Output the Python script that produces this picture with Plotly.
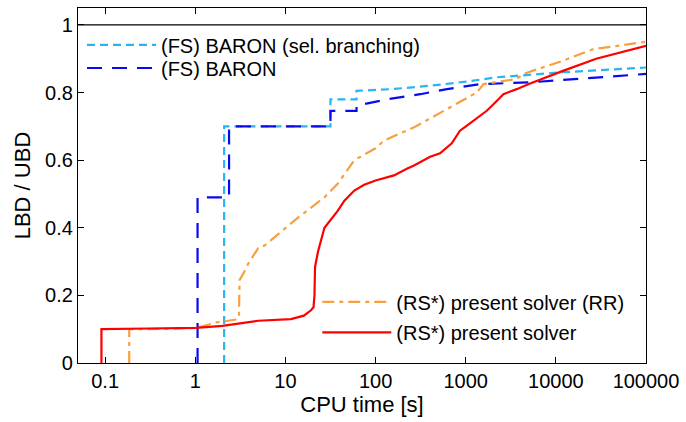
import plotly.graph_objects as go
import math

# ---- data (time [s], LBD/UBD) ----
fs_sel_t = [2.09, 2.09, 31.6, 31.6, 61.5, 61.5, 150, 403, 1000, 2208, 12000, 100000]
fs_sel_v = [0.0, 0.70, 0.70, 0.78, 0.78, 0.805, 0.81, 0.82, 0.832, 0.845, 0.86, 0.874]

fs_t = [1.06, 1.06, 2.37, 2.37, 31.6, 31.6, 61.5, 61.5, 135, 313, 621, 1434, 5100, 28000, 100000]
fs_v = [0.0, 0.49, 0.49, 0.70, 0.70, 0.746, 0.746, 0.761, 0.78, 0.795, 0.81, 0.825, 0.83, 0.845, 0.855]

rr_t = [0.185, 0.185, 0.5, 1.03, 1.72, 2.93, 3.05, 3.1, 3.5, 3.87, 4.99, 5.92, 13.8, 27.1, 38.0,
        58.1, 100, 124, 267, 670, 1328, 1575, 3670, 4350, 12000, 25700, 100000]
rr_v = [0.0, 0.10, 0.101, 0.104, 0.12, 0.129, 0.135, 0.245, 0.27, 0.294, 0.34, 0.348, 0.43, 0.49, 0.53,
        0.60, 0.635, 0.658, 0.697, 0.756, 0.80, 0.825, 0.84, 0.855, 0.894, 0.928, 0.95]

rs_t = [0.091, 0.091, 0.3, 1.03, 2.0, 5.0, 11.5, 16.0, 19.2, 20.5, 21.0, 21.3, 23.0, 24.9, 27.1,
        38.0, 45.1, 58.1, 74.8, 100, 160, 225, 267, 403, 519, 700, 863, 1005, 1713, 2208,
        2618, 3670, 5100, 12000, 28000, 100000]
rs_v = [0.0, 0.10, 0.102, 0.104, 0.11, 0.125, 0.13, 0.14, 0.156, 0.165, 0.20, 0.284, 0.33, 0.363, 0.40,
        0.45, 0.48, 0.51, 0.527, 0.54, 0.555, 0.575, 0.584, 0.61, 0.62, 0.65, 0.687, 0.70, 0.746, 0.775,
        0.795, 0.81, 0.826, 0.864, 0.90, 0.938]

x_ticks = [0.1, 1, 10, 100, 1000, 10000, 100000]
x_tick_labels = ["0.1", "1", "10", "100", "1000", "10000", "100000"]
y_ticks = [0, 0.2, 0.4, 0.6, 0.8, 1]
y_tick_labels = ["0", "0.2", "0.4", "0.6", "0.8", "1"]

FONT = "Liberation Sans, Arial, Helvetica, sans-serif"

fig = go.Figure()
fig.add_trace(go.Scatter(x=fs_sel_t, y=fs_sel_v, mode="lines", name="(FS) BARON (sel. branching)",
                         line=dict(color="#2ab4f4", width=2.2, dash="8px,5px"), legend="legend",
                         showlegend=True))
fig.add_trace(go.Scatter(x=fs_t, y=fs_v, mode="lines", name="(FS) BARON",
                         line=dict(color="#0a0af0", width=2.2, dash="15px,10px"), legend="legend2"))
fig.add_trace(go.Scatter(x=rr_t, y=rr_v, mode="lines", name="(RS*) present solver (RR)",
                         line=dict(color="#f7a040", width=2.2, dash="12px,5px,4px,5px"), legend="legend3"))
fig.add_trace(go.Scatter(x=rs_t, y=rs_v, mode="lines", name="(RS*) present solver",
                         line=dict(color="#ff0000", width=2.2), legend="legend4"))

fig.add_shape(type="line", xref="paper", yref="y", x0=0, x1=1, y0=1, y1=1,
              line=dict(color="black", width=1.3))

axis_common = dict(showline=True, linecolor="black", linewidth=1.3, mirror="allticks",
                   ticks="inside", ticklen=6, tickwidth=1.3, tickcolor="black",
                   showgrid=False, zeroline=False,
                   tickfont=dict(family=FONT, size=20, color="black"))

def leg(x, y):
    return dict(x=x, y=y, xanchor="left", yanchor="middle", bgcolor="rgba(0,0,0,0)",
                font=dict(family=FONT, size=20, color="black"), itemwidth=69)

fig.update_layout(
    width=686, height=422,
    margin=dict(l=78, r=36, t=7, b=59),
    paper_bgcolor="white", plot_bgcolor="white",
    font=dict(family=FONT, color="black"),
    showlegend=True,
    xaxis=dict(type="log", range=[math.log10(0.05), 5], tickvals=x_ticks, ticktext=x_tick_labels,
               title=dict(text="CPU time [s]", font=dict(family=FONT, size=22), standoff=4),
               **axis_common),
    yaxis=dict(range=[0, 1.05], tickvals=y_ticks, ticktext=y_tick_labels,
               title=dict(text="LBD / UBD", font=dict(family=FONT, size=22), standoff=8),
               **axis_common),
    legend=leg(0.007, 0.896),
    legend2=leg(0.007, 0.831),
    legend3=leg(0.4213, 0.172),
    legend4=leg(0.4213, 0.086),
)

fig.write_html("out.html", config={"displayModeBar": False},
               post_script="document.body.style.margin='0';")
